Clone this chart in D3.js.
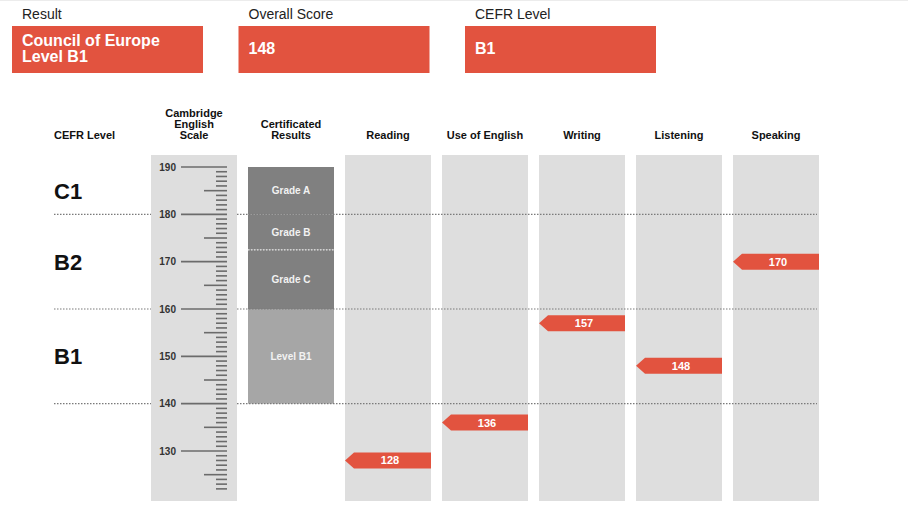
<!DOCTYPE html>
<html lang="en">
<head>
  <meta charset="UTF-8">
  <title>Cambridge English Scale Result</title>
  <script src="https://d3js.org/d3.v7.min.js"></script>
  <style>
    body { margin: 0; background: #fff; }
    svg text { font-family: "Liberation Sans", Arial, sans-serif; }
  </style>
</head>
<body>
  <svg width="908" height="520"></svg>
  <script>
    // summary boxes
    const summaryLabels = ["Result", "Overall Score", "CEFR Level"];
    const summaryValues = [["Council of Europe", "Level B1"], ["148"], ["B1"]];

    // column headers
    const columnHeaders = [["Cambridge", "English", "Scale"], ["Certificated", "Results"],
      ["Reading"], ["Use of English"], ["Writing"], ["Listening"], ["Speaking"]];
    const skills = ["Reading", "Use of English", "Writing", "Listening", "Speaking"];
    const scores = [128, 136, 157, 148, 170];

    // CEFR bands
    const levelNames = ["C1", "B2", "B1"];
    const levelMids = [185, 170, 150];
    const levelBounds = [180, 160, 140];

    // certificated results
    const gradeNames = ["Grade A", "Grade B", "Grade C", "Level B1"];
    const gradeTop = [190, 180, 172.5, 160];
    const gradeBottom = [180, 172.5, 160, 140];

    const scaleMajor = [190, 180, 170, 160, 150, 140, 130];

    const red = "#e2533f";
    const svg = d3.select("svg");

    // faint rule along the top edge
    svg.append("line").attr("x1", 0).attr("x2", 908).attr("y1", 0.5).attr("y2", 0.5)
      .attr("stroke", "#ececec");

    const y = d3.scaleLinear().domain([130, 190]).range([451, 167]);
    const cols = ["scale", "cert"].concat(skills);
    const x = d3.scaleBand().domain(cols).range([151, 819]).paddingInner(11 / 97).paddingOuter(0);
    const bw = x.bandwidth();

    // top summary
    const sx = d3.scaleBand().domain(summaryLabels).range([12, 656]).paddingInner(35.5 / 226.5);
    const sum = svg.append("g").selectAll("g").data(summaryLabels).enter().append("g");
    sum.append("text").attr("x", d => sx(d) + 10).attr("y", 19)
      .attr("font-size", 14).attr("fill", "#222").text(d => d);
    sum.append("rect").attr("x", d => sx(d)).attr("y", 26)
      .attr("width", sx.bandwidth()).attr("height", 47).attr("fill", red);
    sum.each(function(d, i) {
      const lines = summaryValues[i];
      const g = d3.select(this);
      lines.forEach((t, j) => {
        g.append("text").attr("x", sx(d) + 10)
          .attr("y", 48.5 + (j - (lines.length - 1) / 2) * 16 + 5.5)
          .attr("font-size", 16).attr("font-weight", "bold").attr("fill", "#fff").text(t);
      });
    });

    // grey columns
    svg.append("g").selectAll("rect").data(cols.filter(c => c !== "cert")).enter().append("rect")
      .attr("x", d => x(d)).attr("y", 155).attr("width", bw).attr("height", 346)
      .attr("fill", "#dedede");

    // headers
    svg.append("text").attr("x", 54).attr("y", 139).attr("font-size", 11)
      .attr("font-weight", "bold").attr("fill", "#111").text("CEFR Level");
    cols.forEach((c, i) => {
      const lines = columnHeaders[i];
      lines.forEach((t, j) => {
        svg.append("text").attr("x", x(c) + bw / 2)
          .attr("y", 139 - (lines.length - 1 - j) * 11)
          .attr("text-anchor", "middle").attr("font-size", 11)
          .attr("font-weight", "bold").attr("fill", "#111").text(t);
      });
    });

    // certificated result boxes
    svg.append("g").selectAll("rect").data(gradeNames).enter().append("rect")
      .attr("x", x("cert")).attr("width", bw)
      .attr("y", (d, i) => y(gradeTop[i]))
      .attr("height", (d, i) => y(gradeBottom[i]) - y(gradeTop[i]))
      .attr("fill", (d, i) => i < 3 ? "#808080" : "#a6a6a6");
    svg.append("g").selectAll("text").data(gradeNames).enter().append("text")
      .attr("x", x("cert") + bw / 2)
      .attr("y", (d, i) => y((gradeTop[i] + gradeBottom[i]) / 2) + 3.5)
      .attr("text-anchor", "middle").attr("font-size", 10).attr("font-weight", "bold")
      .attr("fill", "#f2f2f2").text(d => d);
    svg.append("line").attr("x1", x("cert")).attr("x2", x("cert") + bw)
      .attr("y1", y(172.5)).attr("y2", y(172.5))
      .attr("stroke", "#e6e6e6").attr("stroke-width", 1.2).attr("stroke-dasharray", "1.5,1.5");

    // scale ticks
    const tickG = svg.append("g").attr("stroke", "#6b6b6b").attr("stroke-width", 1.6);
    d3.range(122, 191).forEach(v => {
      const x0 = v % 10 === 0 && v >= 130 ? 181 : v % 5 === 0 ? 204 : 216;
      tickG.append("line").attr("x1", x0).attr("x2", 227).attr("y1", y(v)).attr("y2", y(v));
    });
    svg.append("g").selectAll("text").data(scaleMajor).enter().append("text")
      .attr("x", 176).attr("y", d => y(d) + 3.5).attr("text-anchor", "end")
      .attr("font-size", 10).attr("font-weight", "bold").attr("fill", "#333").text(d => d);

    // CEFR level boundaries
    const dl = svg.append("g").attr("stroke", "#7a7a7a").attr("stroke-width", 1.2)
      .attr("stroke-dasharray", "1.5,1.5");
    levelBounds.forEach(b => {
      dl.append("line").attr("x1", 54).attr("x2", x("scale")).attr("y1", y(b)).attr("y2", y(b));
      dl.append("line").attr("x1", x("scale") + bw).attr("x2", 817).attr("y1", y(b)).attr("y2", y(b));
    });
    svg.append("g").selectAll("text").data(levelNames).enter().append("text")
      .attr("x", 54).attr("y", (d, i) => y(levelMids[i]) + 8)
      .attr("font-size", 22).attr("font-weight", "bold").attr("fill", "#111").text(d => d);

    // score markers
    const mh = 16, tip = 9;
    const marker = svg.append("g").selectAll("g").data(skills).enter().append("g");
    marker.append("path").attr("fill", red)
      .attr("d", (d, i) => {
        const x0 = x(d), x1 = x(d) + bw, yc = y(scores[i]);
        return `M${x0},${yc} L${x0 + tip},${yc - mh / 2} L${x1},${yc - mh / 2} L${x1},${yc + mh / 2} L${x0 + tip},${yc + mh / 2} Z`;
      });
    marker.append("text").attr("x", d => x(d) + bw / 2 + 2)
      .attr("y", (d, i) => y(scores[i]) + 4)
      .attr("text-anchor", "middle").attr("font-size", 11).attr("font-weight", "bold")
      .attr("fill", "#fff").text((d, i) => scores[i]);
  </script>
</body>
</html>
